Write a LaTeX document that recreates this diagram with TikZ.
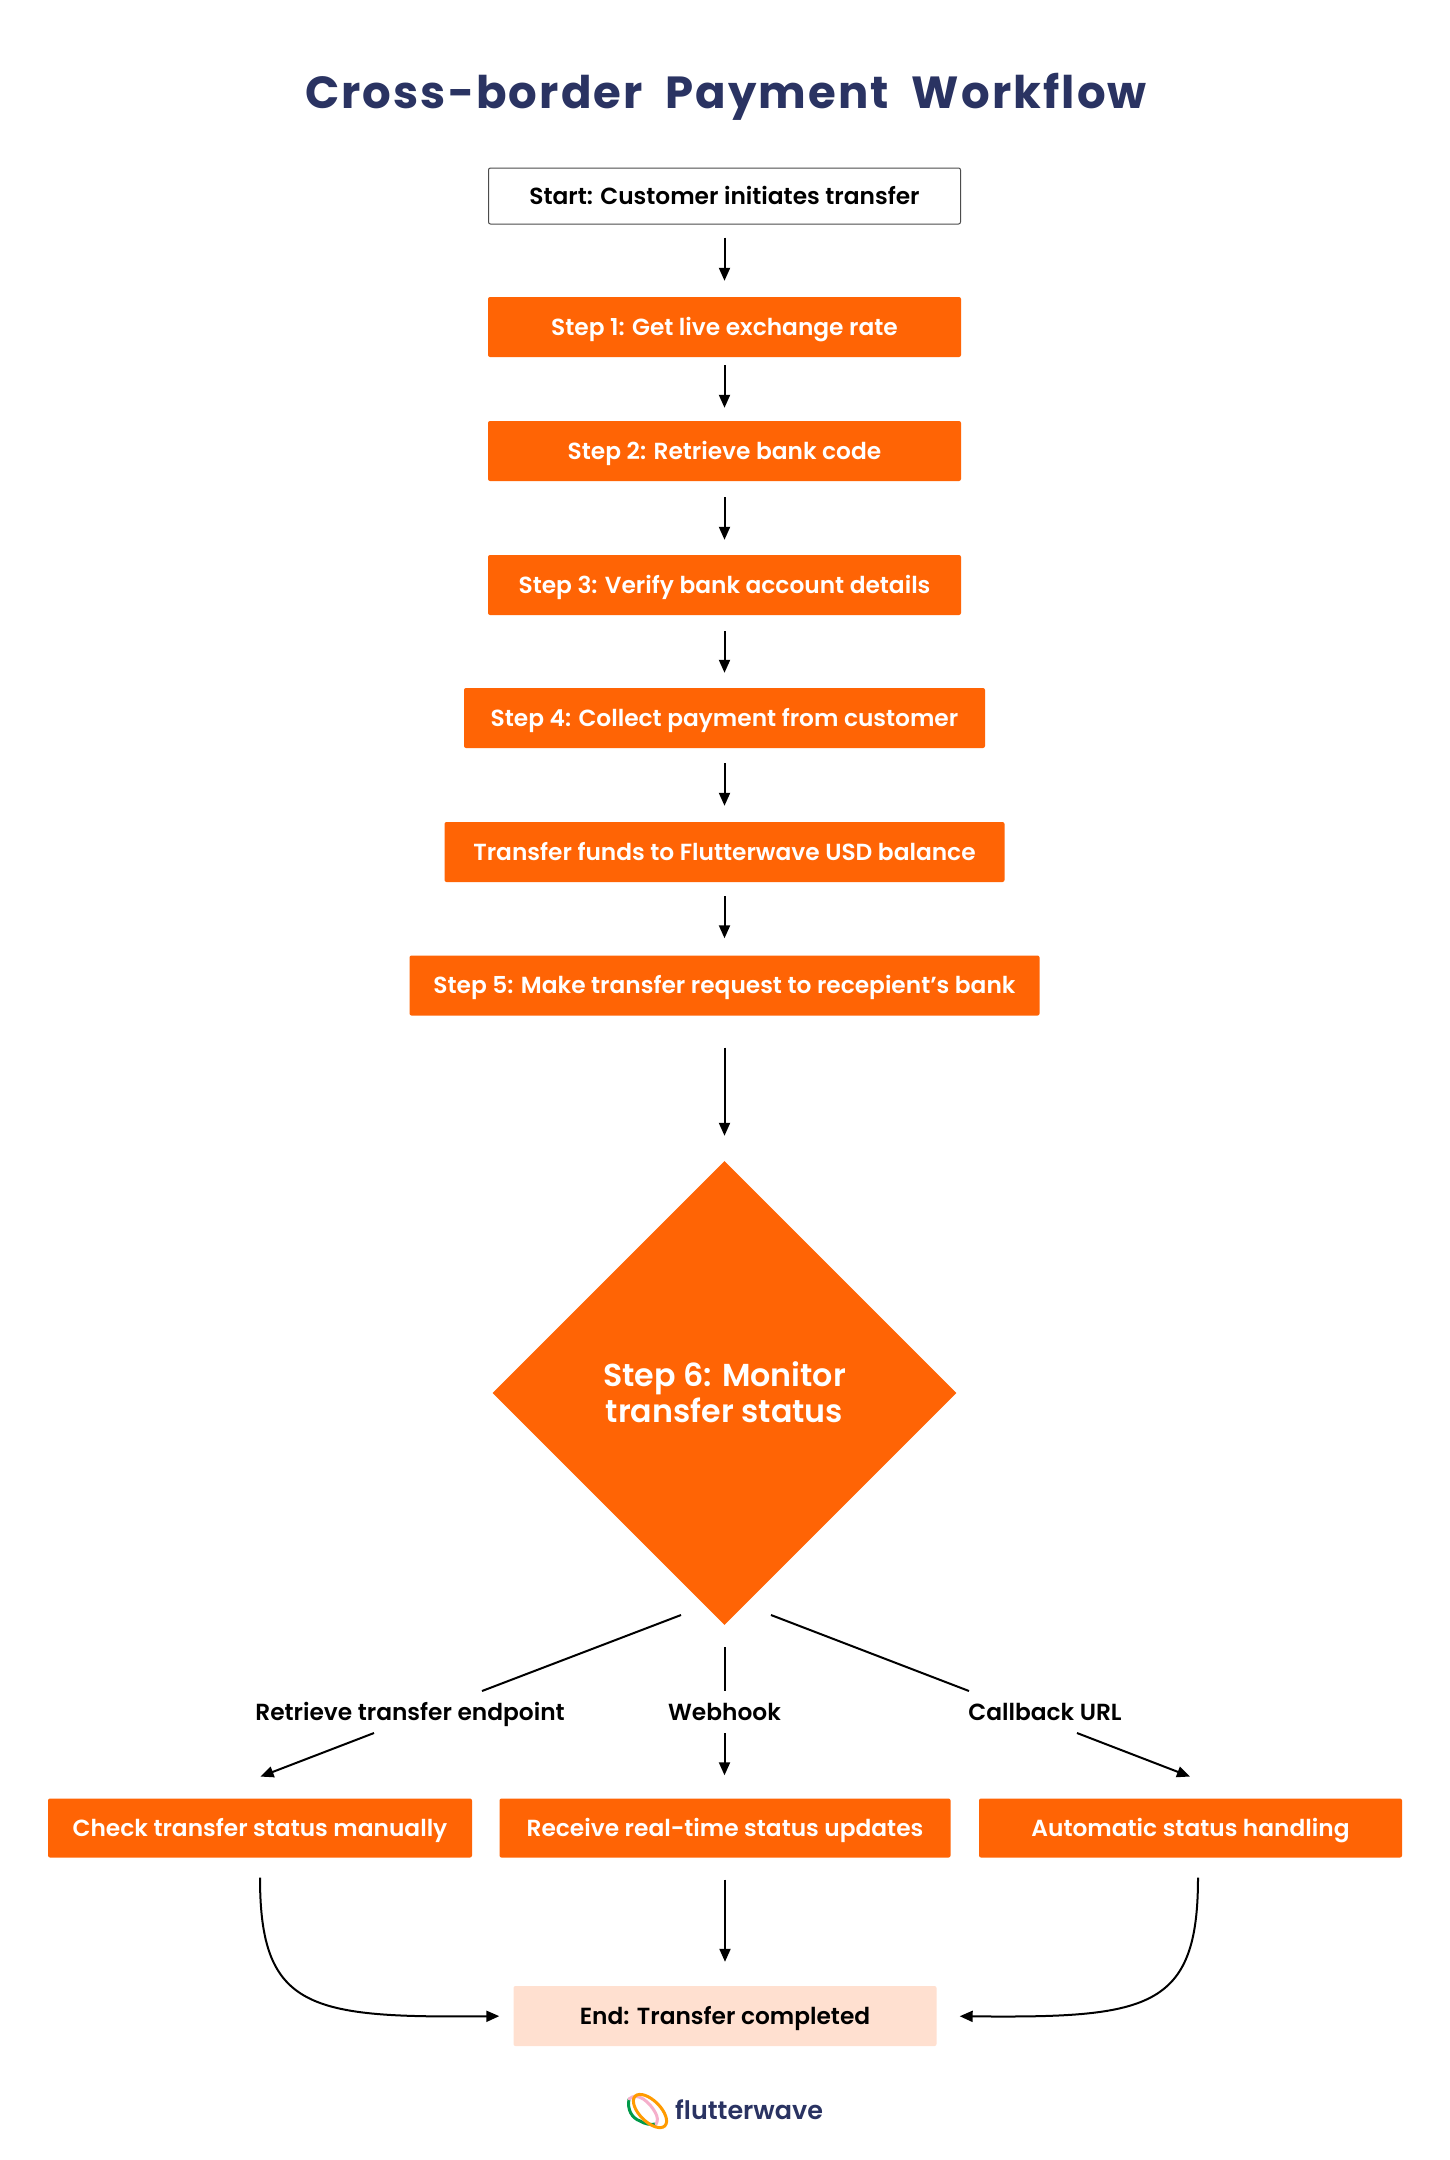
\documentclass[tikz,border=0pt]{standalone}
\usepackage{fontspec}
\setmainfont[UprightFont={* SemiBold},BoldFont={* Bold}]{Poppins}
\usetikzlibrary{arrows.meta,shapes.geometric}
\definecolor{flwo}{HTML}{FF6405}
\definecolor{flwn}{HTML}{2A3362}
\definecolor{flwp}{HTML}{FFE0D0}
\definecolor{flwg}{HTML}{009A49}
\definecolor{flwk}{HTML}{F5AFCB}
\definecolor{flwy}{HTML}{FF9B00}
\tikzset{
 x=1pt,y=-1pt,
 box/.style={rectangle,rounded corners=2pt,inner sep=0pt,minimum height=60pt,font=\fontsize{23.3}{28}\selectfont,text height=20pt,text depth=4pt,anchor=center},
 stepbox/.style={box,fill=flwo,text=white},
 startbox/.style={box,draw=black!70,line width=1pt,fill=white,text=black,minimum height=56pt},
 endbox/.style={box,fill=flwp,text=black},
 lbl/.style={inner sep=0pt,minimum height=42pt,font=\fontsize{23.3}{28}\selectfont,text height=20pt,text depth=4pt,text=black},
 conn/.style={draw=black,line width=2pt,-{Triangle[length=13pt,width=11pt]}},
 plain/.style={draw=black,line width=2pt},
 ring/.style={line width=3pt,line cap=round}
}
\begin{document}
\begin{tikzpicture}
\useasboundingbox[fill=white] (0,0) rectangle (1450,2160);
\node[font=\fontsize{45}{50}\bfseries\selectfont,text=flwn,inner sep=0pt,text height=31pt,text depth=0pt] (title) at (726,92.5) {\addfontfeatures{LetterSpace=4.7}Cross-border\hspace{11pt} Payment\hspace{11pt} Workflow};
\node[startbox,minimum width=472pt] (start) at (724.5,196) {Start: Customer initiates transfer};
\node[stepbox,minimum width=473pt] (s1) at (724.5,327) {Step 1: Get live exchange rate};
\node[stepbox,minimum width=473pt] (s2) at (724.5,451) {Step 2: Retrieve bank code};
\node[stepbox,minimum width=473pt] (s3) at (724.5,585) {Step 3: Verify bank account details};
\node[stepbox,minimum width=521pt] (s4) at (724.5,718) {Step 4: Collect payment from customer};
\node[stepbox,minimum width=560pt] (tf) at (724.5,852) {Transfer funds to Flutterwave USD balance};
\node[stepbox,minimum width=630pt] (s5) at (724.5,985.5) {Step 5: Make transfer request to recepient’s bank};
\node[diamond,fill=flwo,inner sep=0pt,minimum width=464pt,minimum height=464pt,text=white,align=center,font=\fontsize{31.7}{36}\selectfont] (mon) at (724.5,1393) {\raisebox{1pt}{Step 6: Monitor}\\\raisebox{1pt}{transfer status}};
\node[lbl] (lr) at (410,1712) {Retrieve transfer endpoint};
\node[lbl] (lw) at (724.5,1712) {Webhook};
\node[lbl] (lc) at (1045,1712) {Callback URL};
\node[stepbox,minimum width=424pt,minimum height=59pt] (chk) at (260,1828) {Check transfer status manually};
\node[stepbox,minimum width=451pt,minimum height=59pt] (rcv) at (725,1828) {Receive real-time status updates};
\node[stepbox,minimum width=423pt,minimum height=59pt] (aut) at (1190.5,1828) {Automatic status handling};
\node[endbox,minimum width=423pt] (fin) at (725,2016) {End: Transfer completed};

\draw[conn,shorten <=13pt,shorten >=16pt] (start) -- (s1);
\draw[conn,shorten <=8pt,shorten >=13pt] (s1) -- (s2);
\draw[conn,shorten <=16pt,shorten >=15pt] (s2) -- (s3);
\draw[conn,shorten <=16pt,shorten >=15pt] (s3) -- (s4);
\draw[conn,shorten <=15pt,shorten >=16pt] (s4) -- (tf);
\draw[conn,shorten <=14pt,shorten >=17pt] (tf) -- (s5);
\draw[conn,shorten <=32pt,shorten >=25pt] (s5) -- (mon);

\coordinate (la) at (681,1615);
\coordinate (lb) at (482,1691);
\coordinate (lc1) at (374,1733);
\coordinate (ra) at (771,1615);
\coordinate (rb) at (969,1691);
\coordinate (rc1) at (1077,1733);
\draw[plain] (la) -- (lb);
\draw[conn,shorten >=60.6pt] (lc1) -- ([xshift=-56pt]chk.north);
\draw[plain,shorten <=22pt] (mon.south) -- (lw.north);
\draw[conn,shorten >=23pt] (lw.south) -- ([xshift=-0.5pt]rcv.north);
\draw[plain] (ra) -- (rb);
\draw[conn,shorten >=60.6pt] (rc1) -- ([xshift=56pt]aut.north);
\draw[conn,shorten <=22pt,shorten >=24pt] (rcv) -- (fin);
\draw[conn,shorten <=20pt,shorten >=14pt] (chk.south) .. controls (260,2010) and (310,2018) .. (fin.west);
\draw[conn,shorten <=20pt,shorten >=23pt] ([xshift=7.5pt]aut.south) .. controls (1198,2010) and (1148,2018) .. (fin.east);

% logo
\draw[ring,flwg] (629,2099) .. controls (627,2110) and (632,2118) .. (640,2121) .. controls (645,2124) and (650,2125) .. (656,2124);
\draw[ring,flwk] (629,2099) .. controls (638,2091) and (650,2103) .. (655,2112) .. controls (658,2117) and (658,2121) .. (656,2124);
\draw[ring,flwy,rotate around={-45:(650,2111)}] (650,2111) ellipse (21pt and 10.5pt);
\node[font=\fontsize{25.4}{28}\selectfont,text=flwn,inner sep=0pt,anchor=base west] (brand) at (675,2119) {flutterwave};
\end{tikzpicture}
\end{document}
